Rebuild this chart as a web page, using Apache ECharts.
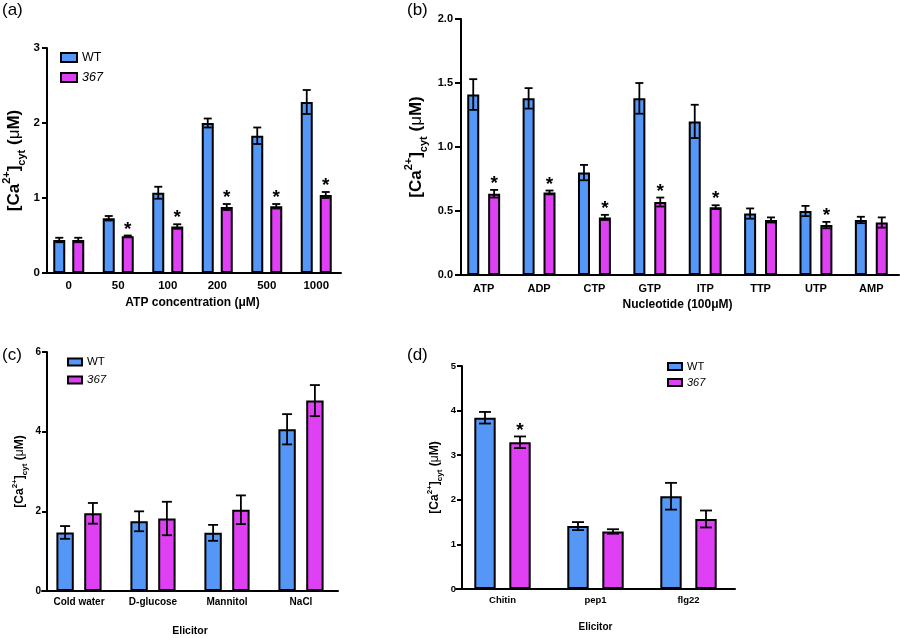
<!DOCTYPE html>
<html><head><meta charset="utf-8">
<script src="https://cdn.jsdelivr.net/npm/echarts@6/dist/echarts.min.js"></script>
<style>html,body{margin:0;padding:0;background:#fff}#c{width:900px;height:638px}</style>
</head><body><div id="c"></div>
<script>
// ---------- data ----------
const seriesNames = ['WT', '367'];

const aCategories = ['0', '50', '100', '200', '500', '1000'];
const aWT      = [0.44, 0.73, 1.07, 2.00, 1.83, 2.28];
const aWTErr   = [0.03, 0.03, 0.08, 0.06, 0.11, 0.16];
const a367     = [0.44, 0.49, 0.62, 0.88, 0.89, 1.04];
const a367Err  = [0.03, 0.01, 0.03, 0.04, 0.03, 0.04];
const aSig     = [0, 1, 1, 1, 1, 1];

const bCategories = ['ATP', 'ADP', 'CTP', 'GTP', 'ITP', 'TTP', 'UTP', 'AMP'];
const bWT      = [1.41, 1.38, 0.80, 1.38, 1.20, 0.48, 0.50, 0.43];
const bWTErr   = [0.12, 0.08, 0.06, 0.12, 0.13, 0.04, 0.04, 0.025];
const b367     = [0.635, 0.645, 0.45, 0.57, 0.53, 0.43, 0.39, 0.41];
const b367Err  = [0.03, 0.015, 0.02, 0.035, 0.015, 0.02, 0.025, 0.04];
const bSig     = [1, 1, 1, 1, 1, 0, 1, 0];

const cCategories = ['Cold water', 'D-glucose', 'Mannitol', 'NaCl'];
const cWT      = [1.47, 1.75, 1.46, 4.06];
const cWTErr   = [0.16, 0.25, 0.20, 0.38];
const c367     = [1.95, 1.82, 2.04, 4.78];
const c367Err  = [0.26, 0.42, 0.36, 0.39];
const cSig     = [0, 0, 0, 0];

const dCategories = ['Chitin', 'pep1', 'flg22'];
const dWT      = [3.84, 1.41, 2.08];
const dWTErr   = [0.13, 0.09, 0.30];
const d367     = [3.29, 1.29, 1.57];
const d367Err  = [0.13, 0.05, 0.19];
const dSig     = [1, 0, 0];

const panelLabels = ['(a)', '(b)', '(c)', '(d)'];
const xNames = ['ATP concentration (\u03bcM)', 'Nucleotide (100\u03bcM)', 'Elicitor', 'Elicitor'];
const yMax = [3, 2, 6, 5];
const yStep = [1, 0.5, 2, 1];
const yDecimals = [0, 1, 0, 0];

// ---------- style ----------
const BLUE = '#5597f6';
const MAGENTA = '#e040f4';
const FONT = '"Liberation Sans", Arial, sans-serif';

const layouts = [
  {left: 40, top: 48, width: 301, height: 225, yOff: -3, bw: 12, gap: 7, cap: 8, tickFs: 11.5, nameFs: 12, yNameMain: 17, yNameSmall: 11, yNameLH: 26, yNameGap: 20, xNameGap: 24, tickLen: 5, labelMargin: 7, lw: 1.8},
  {left: 456, top: 19, width: 443, height: 256, yOff: -5, bw: 12, gap: 8.9, cap: 8, tickFs: 11, nameFs: 12, yNameMain: 17, yNameSmall: 11, yNameLH: 26, yNameGap: 32, xNameGap: 24, tickLen: 6, labelMargin: 8, lw: 1.8},
  {left: 42, top: 352, width: 296, height: 240, yOff: -5, bw: 17.4, gap: 10.4, cap: 10, tickFs: 10, nameFs: 10.5, yNameMain: 12, yNameSmall: 8, yNameLH: 18, yNameGap: 18, xNameGap: 35, tickLen: 5, labelMargin: 6, lw: 1.8},
  {left: 456, top: 366, width: 279, height: 223, yOff: -6, bw: 21.4, gap: 13.6, cap: 12, tickFs: 9.5, nameFs: 10, yNameMain: 12, yNameSmall: 8, yNameLH: 18, yNameGap: 18, xNameGap: 33, tickLen: 5, labelMargin: 6, lw: 1.8}
];

const panelData = [
  [aCategories, aWT, aWTErr, a367, a367Err, aSig],
  [bCategories, bWT, bWTErr, b367, b367Err, bSig],
  [cCategories, cWT, cWTErr, c367, c367Err, cSig],
  [dCategories, dWT, dWTErr, d367, d367Err, dSig]
];

function errRender(off, capW, lw) {
  return function (params, api) {
    const i = api.value(0), v = api.value(1), e = api.value(2), s = api.value(3);
    const pTop = api.coord([i, v + e]);
    const pBot = api.coord([i, v - e]);
    const x = pTop[0] + off;
    const st = {stroke: '#000', lineWidth: lw};
    const ch = [
      {type: 'line', shape: {x1: x, y1: pTop[1], x2: x, y2: pBot[1]}, style: st},
      {type: 'line', shape: {x1: x - capW / 2, y1: pTop[1], x2: x + capW / 2, y2: pTop[1]}, style: st},
      {type: 'line', shape: {x1: x - capW / 2, y1: pBot[1], x2: x + capW / 2, y2: pBot[1]}, style: st}
    ];
    if (s) {
      ch.push({type: 'text', x: x, y: pTop[1] - 6,
        style: {text: '*', fontSize: 19, fontWeight: 'bold', fontFamily: FONT, fill: '#000', align: 'center', verticalAlign: 'middle'}});
    }
    return {type: 'group', children: ch};
  };
}

const grid = [], xAxis = [], yAxis = [], series = [], title = [];
const titlePos = [[2, 2], [407, 2], [2, 347], [407, 347]];

panelData.forEach((pd, k) => {
  const [cats, wt, wtE, mu, muE, sig] = pd;
  const L = layouts[k];
  grid.push({left: L.left, top: L.top, width: L.width, height: L.height, containLabel: false});
  xAxis.push({
    type: 'category', gridIndex: k, data: cats,
    name: xNames[k], nameLocation: 'middle', nameGap: L.xNameGap,
    nameTextStyle: {fontFamily: FONT, fontWeight: 'bold', fontSize: L.nameFs, color: '#000'},
    axisLine: {lineStyle: {color: '#000', width: 2}},
    axisTick: {alignWithLabel: true, length: L.tickLen, lineStyle: {color: '#000', width: 2}},
    axisLabel: {interval: 0, margin: L.labelMargin, fontFamily: FONT, fontWeight: 'bold', fontSize: L.tickFs, color: '#000'},
    splitLine: {show: false}
  });
  const d = yDecimals[k];
  yAxis.push({
    type: 'value', gridIndex: k, min: 0, max: yMax[k], interval: yStep[k], offset: L.yOff,
    name: '{m|[Ca}{p|2+}{m|]}{s|cyt}{m| (}{u|\u03bc}{m|M)}',
    nameLocation: 'middle', nameGap: L.yNameGap, nameRotate: 90,
    nameTextStyle: {
      color: '#000',
      rich: {
        m: {fontFamily: FONT, fontWeight: 'bold', fontSize: L.yNameMain, color: '#000', lineHeight: L.yNameLH},
        u: {fontFamily: FONT, fontWeight: 'normal', fontSize: L.yNameMain, color: '#000', lineHeight: L.yNameLH},
        p: {fontFamily: FONT, fontWeight: 'bold', fontSize: L.yNameSmall, color: '#000', verticalAlign: 'top'},
        s: {fontFamily: FONT, fontWeight: 'bold', fontSize: L.yNameSmall, color: '#000', verticalAlign: 'bottom'}
      }
    },
    axisLine: {show: true, lineStyle: {color: '#000', width: 2}},
    axisTick: {show: true, length: L.tickLen, lineStyle: {color: '#000', width: 2}},
    axisLabel: {margin: L.labelMargin, fontFamily: FONT, fontWeight: 'bold', fontSize: L.tickFs, color: '#000',
      formatter: v => v.toFixed(d)},
    splitLine: {show: false}
  });
  const off = (L.bw + L.gap) / 2;
  const barGap = (L.gap / L.bw * 100).toFixed(1) + '%';
  [[wt, BLUE, -off, wtE, null], [mu, MAGENTA, off, muE, sig]].forEach((s, j) => {
    series.push({
      type: 'bar', name: seriesNames[j], xAxisIndex: k, yAxisIndex: k,
      data: s[0], barWidth: L.bw, barGap: barGap,
      itemStyle: {color: s[1], borderColor: '#000', borderWidth: 2},
      emphasis: {disabled: true}, z: 2
    });
    series.push({
      type: 'custom', name: seriesNames[j] + ' err', xAxisIndex: k, yAxisIndex: k, z: 5,
      renderItem: errRender(s[2], L.cap, L.lw),
      data: s[0].map((v, i) => [i, v, s[3][i], s[4] ? s[4][i] : 0]),
      silent: true
    });
  });
  title.push({text: panelLabels[k], left: titlePos[k][0], top: titlePos[k][1], padding: 0,
    textStyle: {fontFamily: FONT, fontWeight: 'normal', fontSize: 17, color: '#000'}});
});

function legendCfg(left, top, iw, ih, gap, fs) {
  return {
    data: seriesNames, orient: 'vertical', left: left, top: top, padding: 0,
    itemWidth: iw, itemHeight: ih, itemGap: gap, icon: 'rect', selectedMode: false,
    itemStyle: {borderColor: '#000', borderWidth: 2},
    formatter: n => n === '367' ? '{i|367}' : '{n|' + n + '}',
    textStyle: {fontFamily: FONT, fontSize: fs, color: '#000',
      rich: {i: {fontFamily: FONT, fontSize: fs, fontStyle: 'italic', color: '#000'},
             n: {fontFamily: FONT, fontSize: fs, color: '#000'}}}
  };
}

const option = {
  animation: false,
  backgroundColor: '#fff',
  title: title,
  legend: [
    legendCfg(60, 51, 16, 9, 7, 12.5),
    legendCfg(67, 356, 14, 7, 6, 11.5),
    legendCfg(667, 361, 14, 7, 5, 11)
  ],
  grid: grid, xAxis: xAxis, yAxis: yAxis, series: series
};

const chart = echarts.init(document.getElementById('c'), null, {renderer: 'canvas'});
chart.setOption(option);
</script>
</body></html>
